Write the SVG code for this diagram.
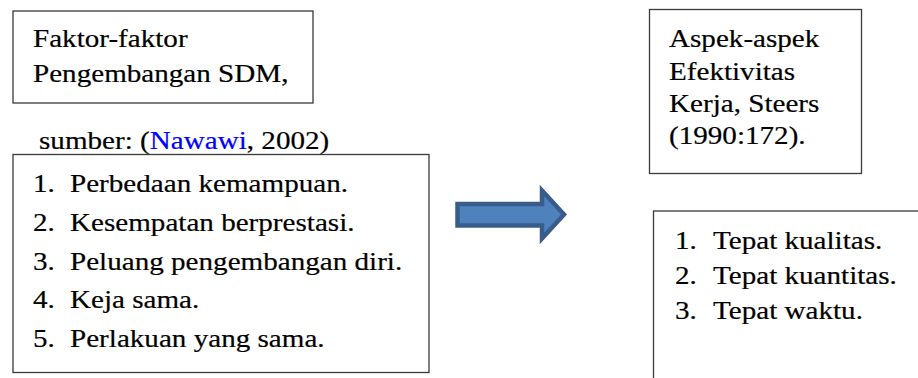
<svg xmlns="http://www.w3.org/2000/svg" width="918" height="378" viewBox="0 0 918 378">
  <style>
    .box { fill: #ffffff; stroke: #3a3a3a; stroke-width: 1.3; }
    .t { font-family: 'Liberation Serif', Tinos, 'DejaVu Serif', serif; font-size: 26px; fill: #000000; stroke: #000000; stroke-width: 0.2; }
    .link { fill: #0000ff; stroke: #0000ff; }
    .arrow { fill: #4f81bd; stroke: #385d8a; stroke-width: 4.5; stroke-linejoin: miter; }
  </style>
  <rect x="0" y="0" width="918" height="378" fill="#ffffff"/>

  <g id="node-faktor-title">
    <rect class="box" x="13" y="11" width="300" height="92"/>
    <text class="t" transform="translate(33,47) scale(1.12,1)">Faktor-faktor</text>
    <text class="t" transform="translate(33,82) scale(1.12,1)">Pengembangan SDM,</text>
  </g>

  <g id="label-sumber">
    <text class="t" transform="translate(39,149) scale(1.12,1)">sumber: (<tspan class="link">Nawawi</tspan>, 2002)</text>
  </g>

  <g id="node-faktor-list">
    <rect class="box" x="13" y="154.5" width="416" height="218"/>
    <text class="t" transform="translate(33,192) scale(1.12,1)">1.</text>
    <text class="t" transform="translate(70,192) scale(1.12,1)">Perbedaan kemampuan.</text>
    <text class="t" transform="translate(33,231) scale(1.12,1)">2.</text>
    <text class="t" transform="translate(70,231) scale(1.12,1)">Kesempatan berprestasi.</text>
    <text class="t" transform="translate(33,269.5) scale(1.12,1)">3.</text>
    <text class="t" transform="translate(70,269.5) scale(1.12,1)">Peluang pengembangan diri.</text>
    <text class="t" transform="translate(33,308) scale(1.12,1)">4.</text>
    <text class="t" transform="translate(70,308) scale(1.12,1)">Keja sama.</text>
    <text class="t" transform="translate(33,346.5) scale(1.12,1)">5.</text>
    <text class="t" transform="translate(70,346.5) scale(1.12,1)">Perlakuan yang sama.</text>
  </g>

  <g id="connectors">
    <path class="arrow" d="M457.5,204 L542,204 L542,190.5 L564,214.5 L542,238.5 L542,225.5 L457.5,225.5 Z"/>
  </g>

  <g id="node-aspek-title">
    <rect class="box" x="649.5" y="9.5" width="212" height="164"/>
    <text class="t" transform="translate(669,47) scale(1.12,1)">Aspek-aspek</text>
    <text class="t" transform="translate(669,79.5) scale(1.12,1)">Efektivitas</text>
    <text class="t" transform="translate(669,112) scale(1.12,1)">Kerja, Steers</text>
    <text class="t" transform="translate(669,144) scale(1.12,1)">(1990:172).</text>
  </g>

  <g id="node-aspek-list">
    <rect class="box" x="653.5" y="211" width="300" height="200"/>
    <text class="t" transform="translate(675,248.5) scale(1.12,1)">1.</text>
    <text class="t" transform="translate(713,248.5) scale(1.12,1)">Tepat kualitas.</text>
    <text class="t" transform="translate(675,283.5) scale(1.12,1)">2.</text>
    <text class="t" transform="translate(713,283.5) scale(1.12,1)">Tepat kuantitas.</text>
    <text class="t" transform="translate(675,318.5) scale(1.12,1)">3.</text>
    <text class="t" transform="translate(713,318.5) scale(1.12,1)">Tepat waktu.</text>
  </g>
</svg>
